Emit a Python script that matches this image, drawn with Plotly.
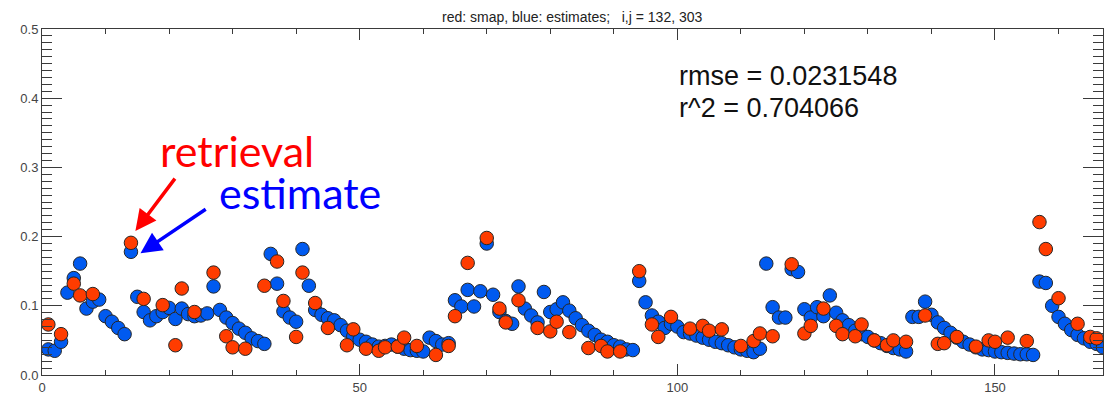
import plotly.graph_objects as go

# ---- data ----
blue_days = list(range(1, 168))
blue_values = [
    0.037, 0.035, 0.048, 0.119, 0.140, 0.161, 0.096, 0.106, 0.109, 0.085,
    0.077, 0.068, 0.059, 0.178, 0.113, 0.091, 0.079, 0.085, 0.091, 0.097,
    0.081, 0.096, 0.088, 0.085, 0.086, 0.089, 0.128, 0.094, 0.083, 0.075,
    0.067, 0.061, 0.053, 0.049, 0.045, 0.175, 0.132, 0.092, 0.083, 0.077,
    0.182, 0.129, 0.094, 0.087, 0.082, 0.079, 0.072, 0.064, 0.056, 0.051,
    0.048, 0.044, 0.041, 0.042, 0.044, 0.041, 0.038, 0.036, 0.035, 0.034,
    0.054, 0.049, 0.044, 0.046, 0.108, 0.099, 0.123, 0.099, 0.121, 0.190,
    0.116, 0.091, 0.078, 0.074, 0.128, 0.096, 0.086, 0.076, 0.120, 0.091,
    0.095, 0.105, 0.093, 0.082, 0.072, 0.064, 0.058, 0.051, 0.048, 0.043,
    0.041, 0.037, 0.036, 0.136, 0.105, 0.086, 0.077, 0.068, 0.074, 0.070,
    0.062, 0.060, 0.057, 0.054, 0.051, 0.048, 0.046, 0.043, 0.040, 0.037,
    0.035, 0.033, 0.038, 0.161, 0.098, 0.083, 0.083, 0.153, 0.149, 0.095,
    0.083, 0.098, 0.085, 0.115, 0.090, 0.079, 0.072, 0.064, 0.059, 0.055,
    0.050, 0.046, 0.042, 0.039, 0.037, 0.034, 0.084, 0.084, 0.106, 0.087,
    0.076, 0.068, 0.061, 0.054, 0.048, 0.044, 0.040, 0.037, 0.036, 0.034,
    0.033, 0.032, 0.031, 0.030, 0.030, 0.029, 0.135, 0.133, 0.100, 0.084,
    0.074, 0.065, 0.058, 0.053, 0.048, 0.045, 0.040,
]

red_days = [
    1, 3, 5, 6, 8, 14, 16, 19, 21, 22, 24, 27, 29, 30, 32, 35, 37, 38, 40, 41,
    43, 45, 48, 49, 51, 53, 54, 56, 57, 59, 62, 64, 65, 67, 70, 72, 73, 75, 78,
    80, 81, 83, 86, 88, 89, 91, 94, 96, 97, 99, 102, 104, 105, 107, 110, 112,
    113, 115, 118, 120, 121, 123, 125, 126, 128, 129, 131, 133, 134, 136, 139,
    141, 142, 144, 147, 149, 150, 152, 155, 157, 158, 160, 163, 165, 166,
]
red_values = [
    0.073, 0.059, 0.132, 0.115, 0.117, 0.191, 0.110, 0.101, 0.043, 0.125,
    0.091, 0.148, 0.056, 0.040, 0.038, 0.129, 0.164, 0.107, 0.055, 0.148,
    0.104, 0.068, 0.043, 0.066, 0.038, 0.035, 0.040, 0.041, 0.054, 0.042,
    0.029, 0.042, 0.085, 0.162, 0.198, 0.096, 0.076, 0.108, 0.068, 0.063,
    0.077, 0.062, 0.039, 0.042, 0.034, 0.034, 0.150, 0.073, 0.055, 0.084,
    0.067, 0.071, 0.064, 0.066, 0.042, 0.049, 0.060, 0.056, 0.160, 0.060,
    0.071, 0.096, 0.071, 0.059, 0.056, 0.073, 0.050, 0.043, 0.050, 0.048,
    0.086, 0.045, 0.046, 0.055, 0.041, 0.050, 0.048, 0.054, 0.049, 0.221,
    0.182, 0.111, 0.074, 0.055, 0.053,
]

x_ticks = [0, 50, 100, 150]
y_ticks = [0.0, 0.1, 0.2, 0.3, 0.4, 0.5]

title_text = "red: smap, blue: estimates;   i,j = 132, 303"
stats_lines = ["rmse = 0.0231548", "r^2 = 0.704066"]

RED = "#ff3c00"
BLUE = "#005af0"
EDGE = "#262626"
AX = "#3a3a3a"
FONT = "Arial, Liberation Sans, sans-serif"

fig = go.Figure()
fig.add_trace(go.Scatter(
    x=blue_days, y=blue_values, mode="markers",
    marker=dict(size=13.5, color=BLUE, line=dict(color=EDGE, width=1)),
    showlegend=False, hoverinfo="skip"))
fig.add_trace(go.Scatter(
    x=red_days, y=red_values, mode="markers",
    marker=dict(size=13.5, color=RED, line=dict(color=EDGE, width=1)),
    showlegend=False, hoverinfo="skip"))

axis_common = dict(
    showgrid=False, zeroline=False, showline=True, linecolor=AX, linewidth=1,
    mirror="ticks", ticks="inside", tickcolor=AX, tickwidth=1,
    tickfont=dict(family=FONT, size=13, color="#444444"),
)
fig.update_xaxes(range=[0, 167], tickvals=x_ticks, ticktext=[str(v) for v in x_ticks],
                 ticklen=11, minor=dict(dtick=10, ticklen=5, ticks="inside", tickcolor=AX),
                 **axis_common)
fig.update_yaxes(range=[0, 0.5], tickvals=y_ticks, ticktext=["%.1f" % v for v in y_ticks],
                 ticklen=20, minor=dict(dtick=0.01, ticklen=10, ticks="inside", tickcolor=AX),
                 **axis_common)

anns = [
    dict(text=title_text, xref="paper", yref="paper", x=0.5, y=1, xanchor="center",
         yanchor="bottom", yshift=2, showarrow=False,
         font=dict(family=FONT, size=14, color="#222222")),
    dict(text=stats_lines[0], xref="x", yref="y", x=100, y=0.432, xanchor="left",
         yanchor="middle", showarrow=False, font=dict(family=FONT, size=27, color="#111111")),
    dict(text=stats_lines[1], xref="x", yref="y", x=100, y=0.386, xanchor="left",
         yanchor="middle", showarrow=False, font=dict(family=FONT, size=27, color="#111111")),
    dict(text="retrieval", xref="x", yref="y", x=18.3, y=0.324, xanchor="left",
         yanchor="middle", showarrow=False, font=dict(family="Lato", size=43, color="#ff0000")),
    dict(text="estimate", xref="x", yref="y", x=27.5, y=0.264, xanchor="left",
         yanchor="middle", showarrow=False, font=dict(family="Lato", size=43, color="#0000ff")),
    dict(text="", xref="x", yref="y", x=14.7, y=0.208, axref="x", ayref="y",
         ax=21.1, ay=0.286, showarrow=True, arrowhead=2, arrowsize=1.2,
         arrowwidth=3.5, arrowcolor="#ff0000"),
    dict(text="", xref="x", yref="y", x=15.5, y=0.176, axref="x", ayref="y",
         ax=26.0, ay=0.241, showarrow=True, arrowhead=2, arrowsize=1.2,
         arrowwidth=3.5, arrowcolor="#0000ff"),
]

fig.update_layout(
    width=1104, height=395,
    margin=dict(l=42, r=1, t=29, b=20),
    paper_bgcolor="white", plot_bgcolor="white",
    annotations=anns,
)

fig.write_html("out.html", config={"displayModeBar": False},
               post_script="document.body.style.margin='0';document.body.style.overflow='hidden';")
